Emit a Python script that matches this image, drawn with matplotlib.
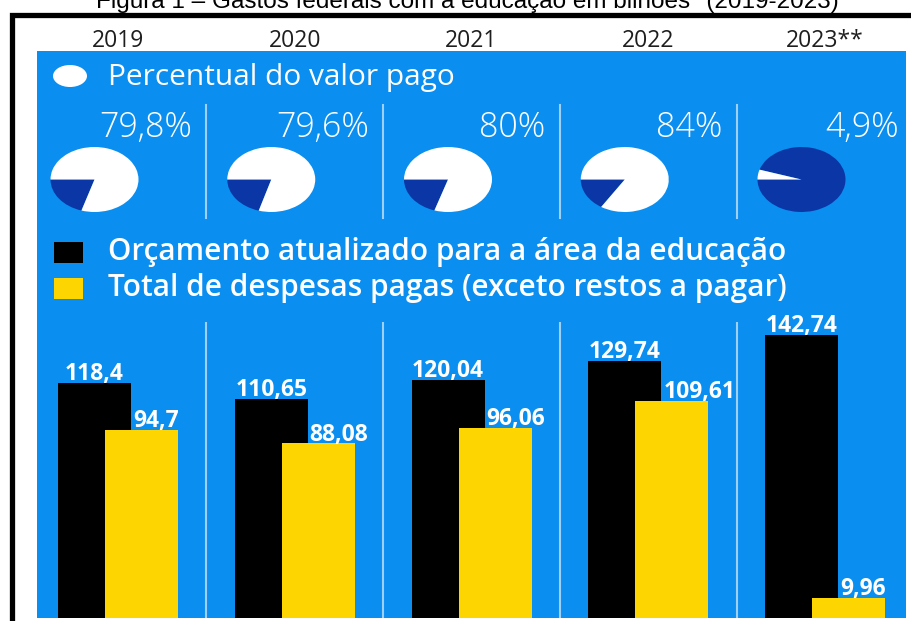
import matplotlib
matplotlib.use('Agg')
import matplotlib.pyplot as plt
from matplotlib.patches import Rectangle, Ellipse

years = ['2019', '2020', '2021', '2022', '2023**']
pct_paid = [79.8, 79.6, 80.0, 84.0, 4.9]
budget = [118.40, 110.65, 120.04, 129.74, 142.74]
paid = [94.70, 88.08, 96.06, 109.61, 9.96]

title = 'Figura 1 – Gastos federais com a educação em bilhões* (2019-2023)'
pie_label = 'Percentual do valor pago'
budget_label = 'Orçamento atualizado para a área da educação'
paid_label = 'Total de despesas pagas (exceto restos a pagar)'

W, H = 911, 621
blue = '#0a8ef0'
navy = '#0a36a6'
yellow = '#fdd500'
sep_color = '#9fd0fa'
font = 'Open Sans'


def rect(left, top, w, h):
    # pixel box (from top-left) -> figure fraction
    return [left / W, 1 - (top + h) / H, w / W, h / H]


def fmt(v):
    return f'{v:g}'.replace('.', ',')


step = 176.75      # px between year groups
x0 = 118           # px centre of first group

fig = plt.figure(figsize=(W / 100, H / 100), dpi=100)

# background layer in pixel coordinates
bg = fig.add_axes([0, 0, 1, 1])
bg.set_xlim(0, W)
bg.set_ylim(H, 0)
bg.axis('off')

bg.text(467, 8, title, ha='center', va='baseline', fontsize=17.5,
        family='Liberation Sans', color='black')
bg.add_patch(Rectangle((11.5, 14.5), 1000, 700, facecolor='white',
                       edgecolor='black', lw=3.8))
bg.add_patch(Rectangle((37, 51), 869, 567, facecolor=blue, lw=0))

for i, yr in enumerate(years):
    bg.text(x0 + step * i, 41, yr, ha='center', va='center', fontsize=16.5,
            family=font, color='#1e1e1e')

# pie section legend
bg.add_patch(Ellipse((70, 76), 34, 22, facecolor='white', lw=0))
bg.text(108, 77, pie_label, ha='left', va='center', fontsize=21.5,
        family=font, color='white')

for i in range(len(years) - 1):
    xs = x0 + step * (i + 0.5)
    bg.plot([xs, xs], [105, 218], color=sep_color, lw=1.5)

for i, p in enumerate(pct_paid):
    bg.text(x0 + step * i + 74, 128, fmt(p) + '%', ha='right', va='center',
            fontsize=24.5, family=font, fontweight='light', color='white')

# bar legend
bg.add_patch(Rectangle((54, 242), 29, 21, facecolor='black', lw=0))
bg.add_patch(Rectangle((54, 278), 29, 21, facecolor=yellow, lw=0))
bg.text(108, 252, budget_label, ha='left', va='center', fontsize=21.4,
        family=font, fontweight='semibold', color='white')
bg.text(108, 288, paid_label, ha='left', va='center', fontsize=21.4,
        family=font, fontweight='semibold', color='white')

# pies (squashed, like the original)
for i, p in enumerate(pct_paid):
    cx = x0 + step * i - 23.5
    pa = fig.add_axes(rect(cx - 44, 147, 88, 65))
    pa.pie([100 - p, p], colors=[navy, 'white'], startangle=180,
           counterclock=True, wedgeprops=dict(linewidth=0))
    pa.set_aspect('auto')
    pa.set_xlim(-1, 1)
    pa.set_ylim(-1, 1)
    pa.axis('off')

# bars
ax = fig.add_axes(rect(37, 322, 869, 296))
ax.patch.set_alpha(0)
ax.axis('off')
ax.set_xlim((37 - x0) / step, (906 - x0) / step)
ax.set_ylim(0, 296 / 1.983)

pos = list(range(len(years)))
off = 23.5 / step
bw = 73 / step
ax.bar([x - off for x in pos], budget, bw, color='black', zorder=2)
ax.bar([x + off for x in pos], paid, bw, color=yellow, zorder=3)
for x in pos[:-1]:
    ax.axvline(x + 0.5, color=sep_color, lw=1.5, zorder=1)

for x, b, p in zip(pos, budget, paid):
    ax.text(x - off, b + 1.4, fmt(b), ha='center', va='baseline',
            fontsize=16.5, family=font, fontweight='bold', color='white',
            zorder=4)
    ax.text(x + off - bw / 2 + 28 / step, p + 1.4, fmt(p), ha='left',
            va='baseline', fontsize=16.5, family=font, fontweight='bold',
            color='white', zorder=4)

fig.savefig('out.png', dpi=100)
